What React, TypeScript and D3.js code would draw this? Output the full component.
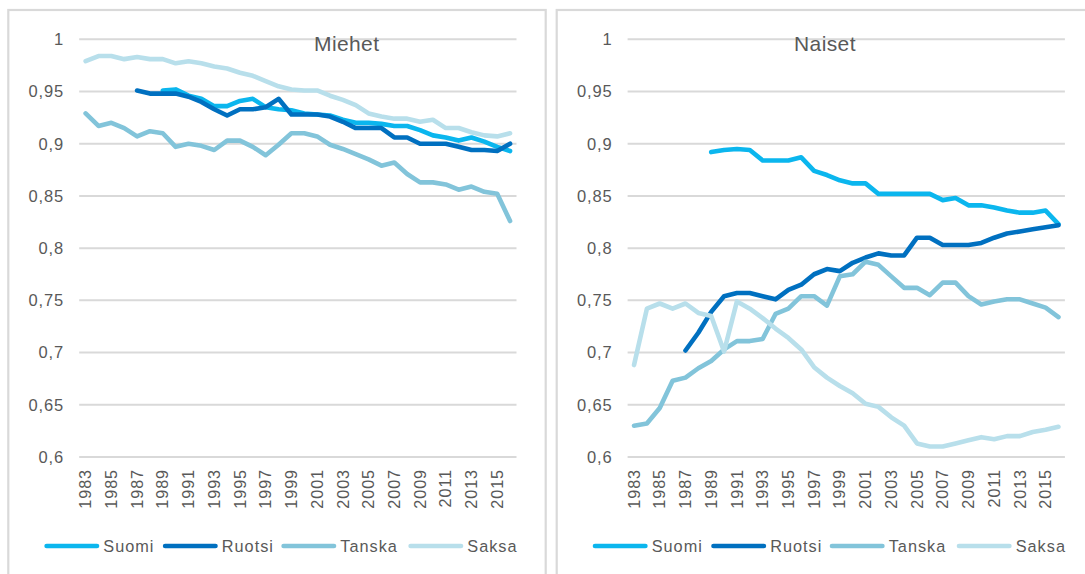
import React from 'react';
import * as d3 from 'd3';

// categories
const years = [
  '1983', '1984', '1985', '1986', '1987', '1988', '1989', '1990', '1991', '1992',
  '1993', '1994', '1995', '1996', '1997', '1998', '1999', '2000', '2001', '2002',
  '2003', '2004', '2005', '2006', '2007', '2008', '2009', '2010', '2011', '2012',
  '2013', '2014', '2015', '2016',
];
const yearLabels = [
  '1983', '1985', '1987', '1989', '1991', '1993', '1995', '1997', '1999',
  '2001', '2003', '2005', '2007', '2009', '2011', '2013', '2015',
];
const yTicks = [0.6, 0.65, 0.7, 0.75, 0.8, 0.85, 0.9, 0.95, 1];
const seriesNames = ['Suomi', 'Ruotsi', 'Tanska', 'Saksa'];

// Miehet
const suomiM = [
  null, null, null, null, null, null,
  0.951, 0.952, 0.946, 0.943, 0.936, 0.936, 0.941, 0.943, 0.935, 0.933,
  0.932, 0.929, 0.928, 0.927, 0.923, 0.920, 0.920, 0.919, 0.917, 0.917,
  0.913, 0.908, 0.906, 0.903, 0.906, 0.902, 0.897, 0.893,
];
const ruotsiM = [
  null, null, null, null,
  0.951, 0.948, 0.948, 0.948, 0.945, 0.940, 0.933, 0.927, 0.933, 0.933,
  0.935, 0.943, 0.928, 0.928, 0.928, 0.926, 0.921, 0.915, 0.915, 0.915,
  0.906, 0.906, 0.900, 0.900, 0.900, 0.897, 0.894, 0.894, 0.893, 0.900,
];
const tanskaM = [
  0.929, 0.917, 0.920, 0.915, 0.907, 0.912, 0.910, 0.897, 0.900, 0.898,
  0.894, 0.903, 0.903, 0.897, 0.889, 0.899, 0.910, 0.910, 0.907, 0.899,
  0.895, 0.890, 0.885, 0.879, 0.882, 0.871, 0.863, 0.863, 0.861, 0.856,
  0.859, 0.854, 0.852, 0.826,
];
const saksaM = [
  0.979, 0.984, 0.984, 0.981, 0.983, 0.981, 0.981, 0.977, 0.979, 0.977,
  0.974, 0.972, 0.968, 0.965, 0.960, 0.955, 0.952, 0.951, 0.951, 0.946,
  0.942, 0.937, 0.929, 0.926, 0.924, 0.924, 0.921, 0.923, 0.915, 0.915,
  0.911, 0.908, 0.907, 0.910,
];

// Naiset
const suomiN = [
  null, null, null, null, null, null,
  0.892, 0.894, 0.895, 0.894, 0.884, 0.884, 0.884, 0.887, 0.874, 0.870,
  0.865, 0.862, 0.862, 0.852, 0.852, 0.852, 0.852, 0.852, 0.846, 0.848,
  0.841, 0.841, 0.839, 0.836, 0.834, 0.834, 0.836, 0.823,
];
const ruotsiN = [
  null, null, null, null,
  0.702, 0.719, 0.739, 0.754, 0.757, 0.757, 0.754, 0.751, 0.760, 0.765,
  0.775, 0.780, 0.778, 0.786, 0.791, 0.795, 0.793, 0.793, 0.810, 0.810,
  0.803, 0.803, 0.803, 0.805, 0.810, 0.814, 0.816, 0.818, 0.820, 0.822,
];
const tanskaN = [
  0.630, 0.632, 0.647, 0.673, 0.676, 0.685, 0.692, 0.703, 0.711, 0.711,
  0.713, 0.737, 0.742, 0.754, 0.754, 0.745, 0.773, 0.775, 0.787, 0.784,
  0.773, 0.762, 0.762, 0.755, 0.767, 0.767, 0.754, 0.746, 0.749, 0.751,
  0.751, 0.747, 0.743, 0.734,
];
const saksaN = [
  0.688, 0.742, 0.747, 0.742, 0.747, 0.738, 0.735, 0.701, 0.749, 0.742,
  0.733, 0.723, 0.714, 0.703, 0.686, 0.676, 0.668, 0.661, 0.651, 0.648,
  0.638, 0.630, 0.613, 0.610, 0.610, 0.613, 0.616, 0.619, 0.617, 0.620,
  0.620, 0.624, 0.626, 0.629,
];

const colors = ['#0bb6ee', '#0070c0', '#82c4da', '#b8dfeb'];
const FONT = '"Liberation Sans", Arial, sans-serif';
const TEXT = '#595959';
const GRID = '#d9d9d9';

const PANEL_W = 537.4;
const LEGEND_X = [36, 154.5, 273, 400]; // offsets of legend items inside a panel

type Series = (number | null)[];

const Panel = ({ left, title, titleX, series }: { left: number; title: string; titleX: number; series: Series[] }) => {
  const x = d3.scaleBand<string>().domain(years).range([left + 70.9, left + 508.2]).padding(0);
  const y = d3.scaleLinear().domain([0.6, 1]).range([457, 39.3]);
  const line = d3.line<number | null>()
    .defined(d => d != null)
    .x((_, i) => (x(years[i]) as number) + x.bandwidth() / 2)
    .y(d => y(d as number));
  const [x0, x1] = x.range();

  return (
    <g>
      <rect x={left} y={10} width={PANEL_W} height={620} fill="#fff" stroke={GRID} strokeWidth={2.2} />
      {yTicks.map(t => (
        <g key={t}>
          <line x1={x0} x2={x1} y1={y(t)} y2={y(t)} stroke={GRID} strokeWidth={2} />
          <text x={x0 - 15} y={y(t)} dy="0.35em" textAnchor="end" fontSize={16.5} letterSpacing={0.9}
            fill={TEXT} fontFamily={FONT}>
            {String(t).replace('.', ',')}
          </text>
        </g>
      ))}
      {yearLabels.map(yr => {
        const cx = (x(yr) as number) + x.bandwidth() / 2;
        return (
          <text key={yr} transform={`translate(${cx},469) rotate(-90)`} dy="0.35em" textAnchor="end"
            fontSize={16.2} letterSpacing={0.9} fill={TEXT} fontFamily={FONT}>
            {yr}
          </text>
        );
      })}
      <text x={titleX} y={51} fontSize={21} letterSpacing={0.4} fill={TEXT} fontFamily={FONT}>{title}</text>
      {series.map((s, i) => (
        <path key={i} d={line(s) || ''} fill="none" stroke={colors[i]} strokeWidth={4.6}
          strokeLinejoin="round" strokeLinecap="round" />
      ))}
      {seriesNames.map((name, i) => {
        const lx = left + LEGEND_X[i];
        return (
          <g key={name}>
            <line x1={lx + 2.3} x2={lx + 52.7} y1={546} y2={546} stroke={colors[i]} strokeWidth={4.6} strokeLinecap="round" />
            <text x={lx + 59} y={546} dy="0.35em" fontSize={16.3} letterSpacing={1} fill={TEXT} fontFamily={FONT}>{name}</text>
          </g>
        );
      })}
    </g>
  );
};

export default function App() {
  return (
    <svg width={1085} height={574} style={{ position: 'absolute', left: 0, top: 0, background: '#fff' }}>
      <rect width={1085} height={574} fill="#fff" />
      <Panel left={8.3} title="Miehet" titleX={314} series={[suomiM, ruotsiM, tanskaM, saksaM]} />
      <Panel left={556.7} title="Naiset" titleX={794} series={[suomiN, ruotsiN, tanskaN, saksaN]} />
    </svg>
  );
}
